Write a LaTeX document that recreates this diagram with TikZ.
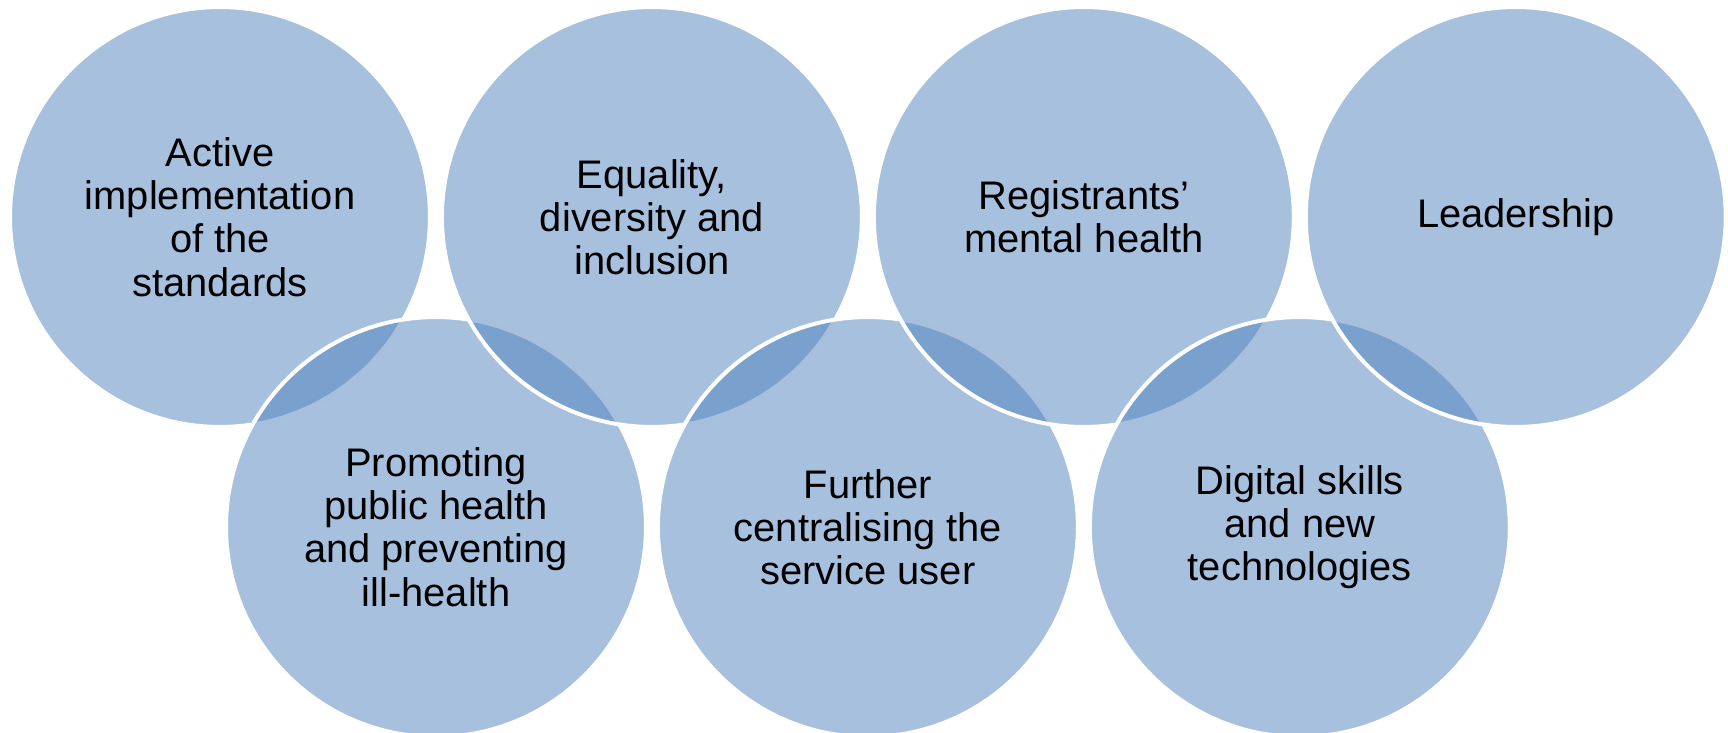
\documentclass[tikz,border=0pt]{standalone}
\usepackage{fontspec}
\setmainfont{Liberation Sans}
\usepackage{tikz}
\definecolor{ringblue}{HTML}{4F81BD}

\begin{document}
\begin{tikzpicture}[x=0.02cm,y=-0.02cm,node distance=8.64cm,
  every node/.style={circle,minimum size=8.4cm,inner sep=0pt,outer sep=0pt,
    fill=ringblue,fill opacity=0.5,text opacity=1,draw=white,line width=0.08cm,
    align=center,font=\fontsize{22.7}{24.6}\selectfont}]
  \useasboundingbox (0,0) rectangle (1728,733);
  \node (active) at (220,217) {Active\\implementation\\of the\\standards};
  \node (public) at (436,527) {Promoting\\public health\\and preventing\\ill-health};
  \node[right of =active](equality) {Equality,\\diversity and\\inclusion};
  \node[right of =public](service) {Further\\centralising the\\service user};
  \node[right of =equality](mental) {Registrants’\\mental health};
  \node[right of =service](digital) {Digital skills\\and new\\technologies};
  \node[right of =mental](leader) {Leadership};
\end{tikzpicture}
\end{document}
